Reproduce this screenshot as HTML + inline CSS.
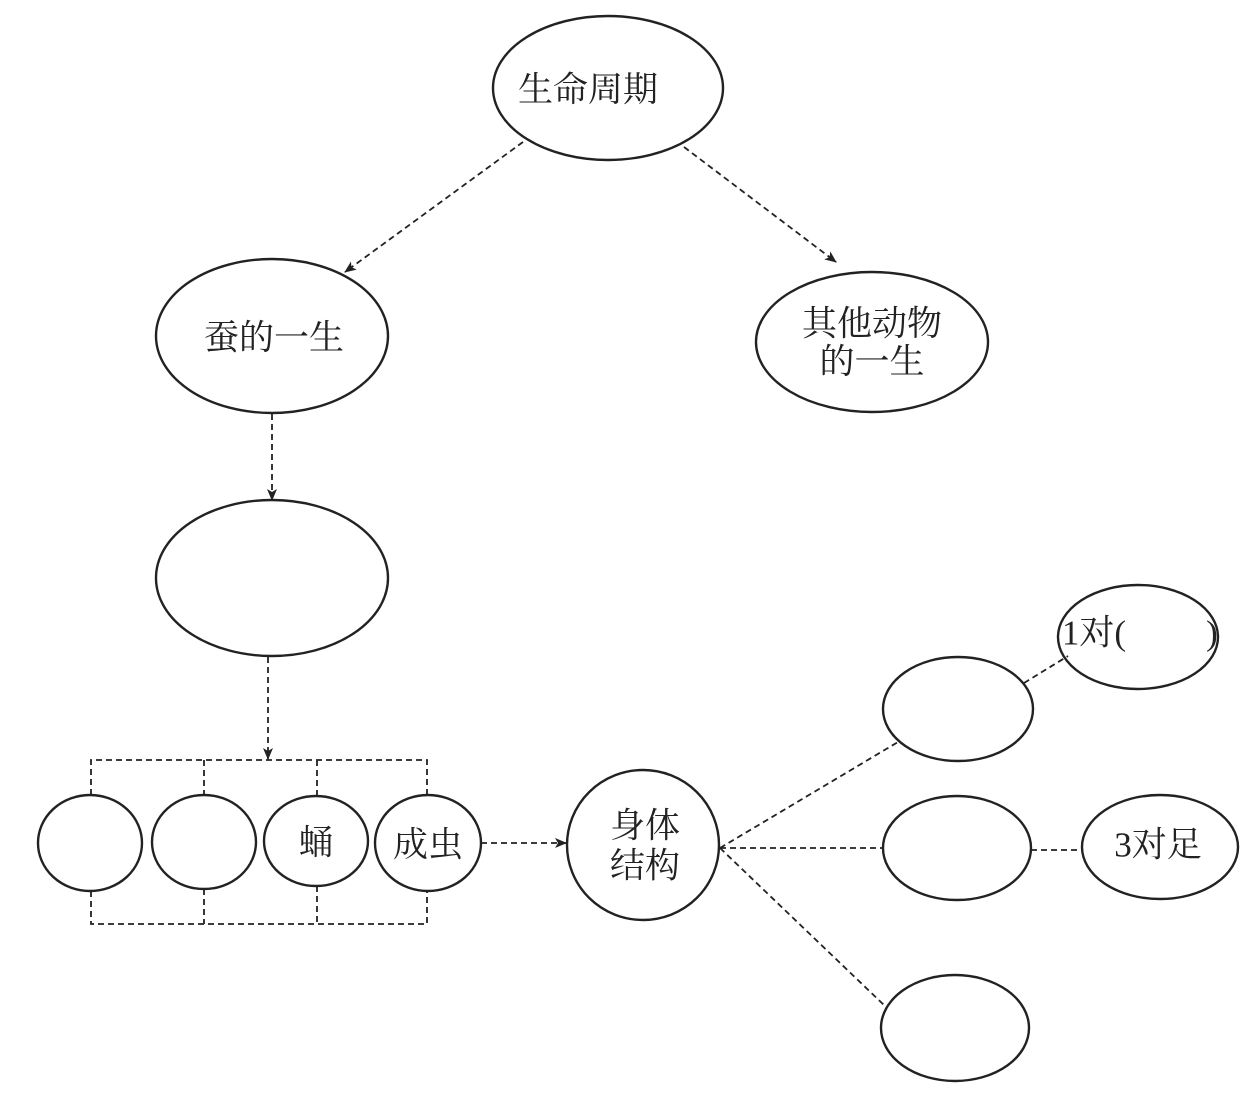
<!DOCTYPE html>
<html><head><meta charset="utf-8"><style>
html,body{margin:0;padding:0;background:#fff;}
svg{display:block;}
text{font-family:"Liberation Serif","Noto Serif CJK SC",serif;font-size:35px;fill:#222;text-anchor:middle;dominant-baseline:central;}
</style></head><body>
<svg width="1244" height="1110" viewBox="0 0 1244 1110" xmlns="http://www.w3.org/2000/svg">
<defs><marker id="a" markerWidth="12" markerHeight="12" refX="11" refY="5" orient="auto" markerUnits="userSpaceOnUse"><path d="M0,0 L12,5 L0,10 L3,5 Z" fill="#222"/></marker></defs>
<g fill="none" stroke="#222" stroke-width="2.4">
<ellipse cx="608" cy="88" rx="115" ry="72"/>
<ellipse cx="272" cy="336" rx="116" ry="77"/>
<ellipse cx="872" cy="342" rx="116" ry="70"/>
<ellipse cx="272" cy="578" rx="116" ry="78"/>
<ellipse cx="90" cy="843" rx="52" ry="48"/>
<ellipse cx="204" cy="842" rx="52" ry="47"/>
<ellipse cx="316" cy="841" rx="52" ry="45"/>
<ellipse cx="428" cy="843" rx="53" ry="48"/>
<ellipse cx="643" cy="845" rx="76" ry="75"/>
<ellipse cx="958" cy="709" rx="75" ry="52"/>
<ellipse cx="1138" cy="637" rx="80" ry="52"/>
<ellipse cx="957" cy="848" rx="74" ry="52"/>
<ellipse cx="1160" cy="847" rx="78" ry="52"/>
<ellipse cx="955" cy="1028" rx="74" ry="53"/>
</g>
<g fill="none" stroke="#222" stroke-width="1.8" stroke-dasharray="6,4">
<line x1="523" y1="142" x2="345" y2="272" marker-end="url(#a)"/>
<line x1="684" y1="147" x2="836" y2="262" marker-end="url(#a)"/>
<line x1="272" y1="414" x2="272" y2="500" marker-end="url(#a)"/>
<line x1="268" y1="657" x2="268" y2="759" marker-end="url(#a)"/>
<polyline points="91,795 91,760 427,760 427,795"/>
<line x1="204" y1="760" x2="204" y2="795"/>
<line x1="317" y1="760" x2="317" y2="796"/>
<polyline points="91,891 91,924 427,924 427,891"/>
<line x1="204" y1="889" x2="204" y2="924"/>
<line x1="317" y1="886" x2="317" y2="924"/>
<line x1="481" y1="843" x2="566" y2="843" marker-end="url(#a)"/>
<line x1="720" y1="848" x2="898" y2="742"/>
<line x1="720" y1="848" x2="883" y2="848"/>
<line x1="720" y1="848" x2="885" y2="1006"/>
<line x1="1024" y1="683" x2="1068" y2="656"/>
<line x1="1031" y1="850" x2="1082" y2="850"/>
</g>
<text x="588" y="90">生命周期</text>
<text x="274" y="338">蚕的一生</text>
<text x="872" y="324">其他动物</text>
<text x="872" y="362">的一生</text>
<text x="316" y="843">蛹</text>
<text x="428" y="845">成虫</text>
<text x="645" y="826">身体</text>
<text x="645" y="866">结构</text>
<text x="1094" y="633">1对(</text>
<text x="1212" y="633">)</text>
<text x="1158" y="845">3对足</text>
</svg>
</body></html>
